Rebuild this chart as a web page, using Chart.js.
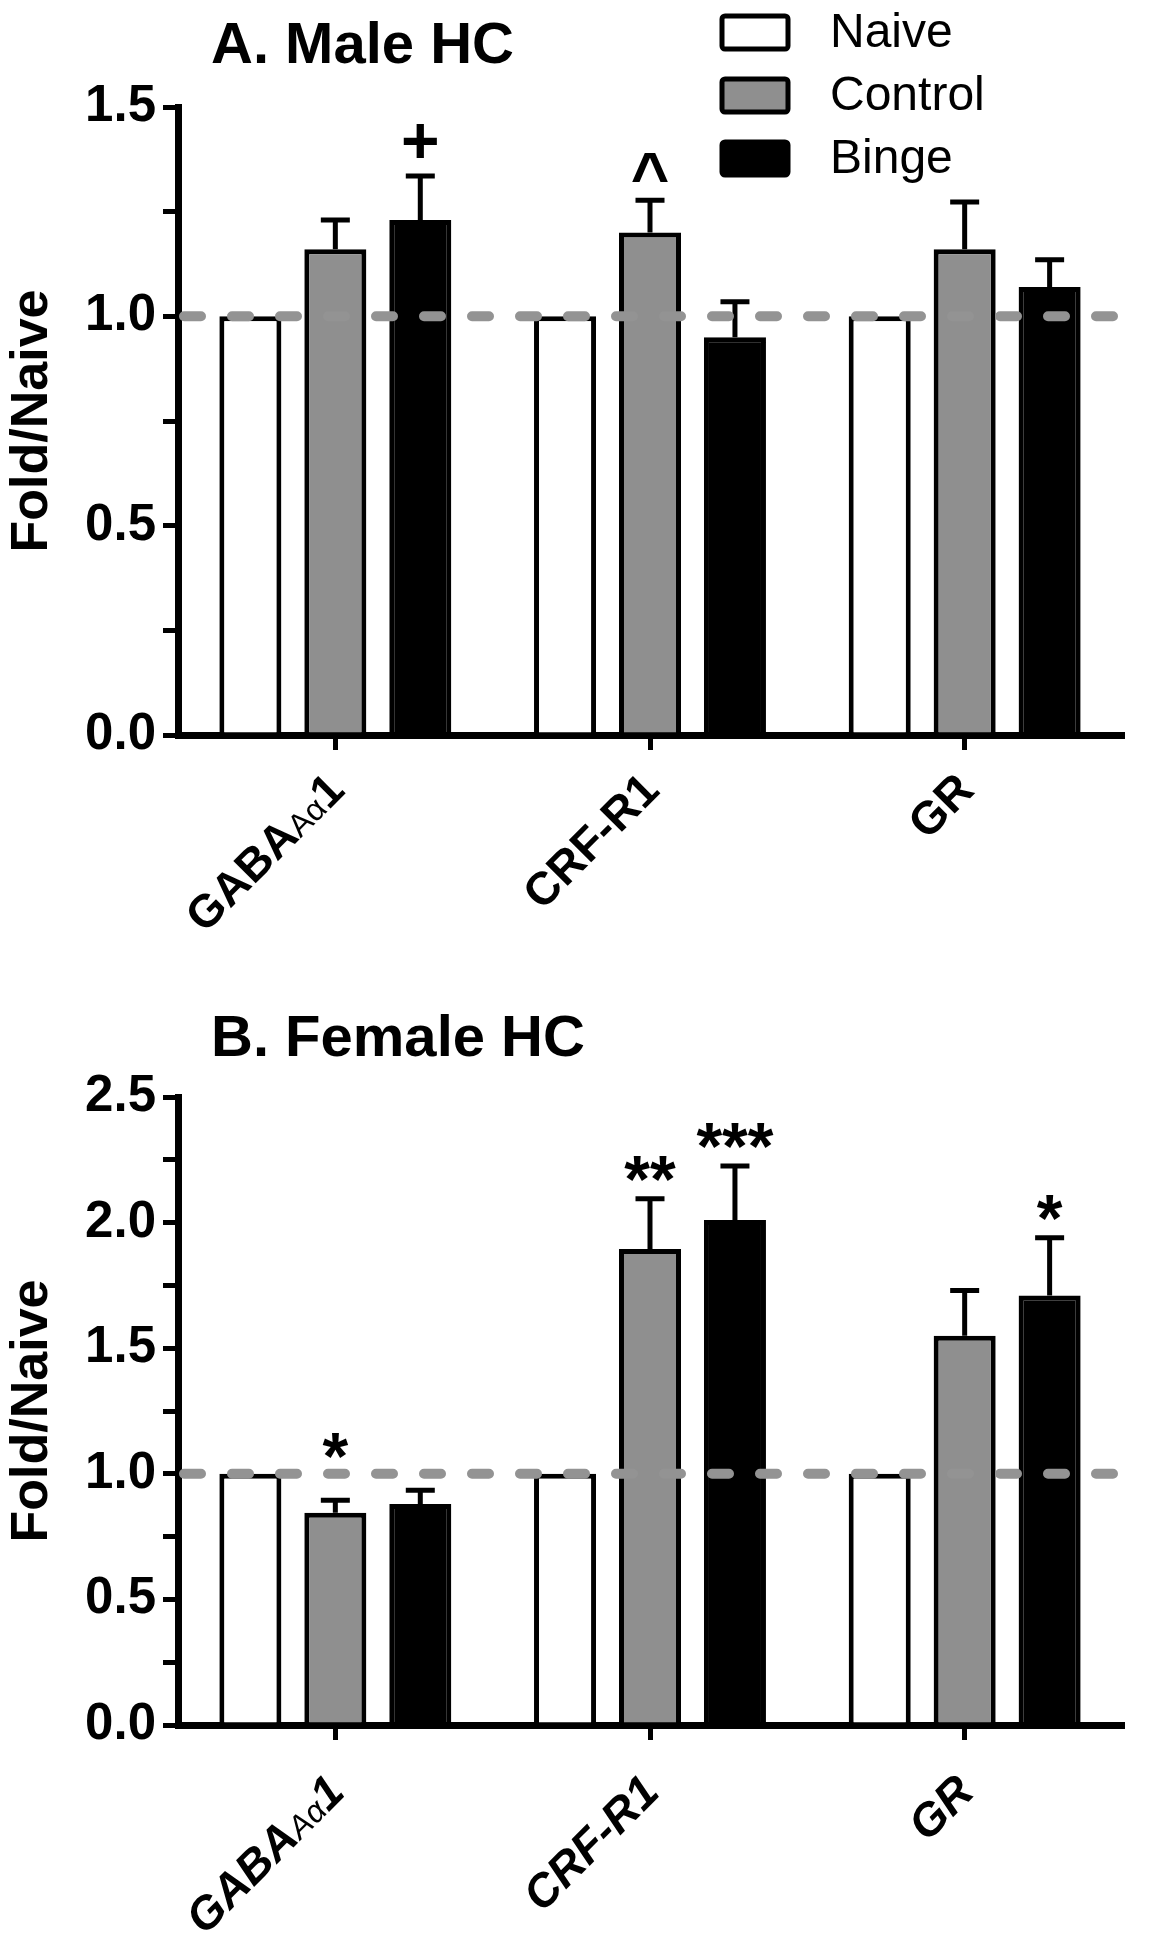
<!DOCTYPE html>
<html>
<head>
<meta charset="utf-8">
<script src="https://cdn.jsdelivr.net/npm/chart.js@4.4.1/dist/chart.umd.min.js"></script>
<style>
  body { margin: 0; background: #fff; }
  canvas { display: block; }
</style>
</head>
<body>
<canvas id="maleChart" width="1152" height="1000"></canvas>
<canvas id="femaleChart" width="1152" height="950"></canvas>
<script>
var genes = ['GABAAα1', 'CRF-R1', 'GR'];
var smallPart = 'Aα'; // drawn smaller and not bold inside the gene label
var groups = ['Naive', 'Control', 'Binge'];
var colors = ['#ffffff', '#8f8f8f', '#000000'];
var refLevel = 1.0;

// A. Male HC
var maleNaive = [1, 1, 1];
var maleControl = [1.16, 1.20, 1.16];
var maleControlErr = [0.07, 0.077, 0.113];
var maleBinge = [1.23, 0.95, 1.07];
var maleBingeErr = [0.105, 0.085, 0.065];
var maleControlSig = ['', '^', ''];
var maleBingeSig = ['+', '', ''];
var maleYMax = 1.5;

// B. Female HC
var femaleNaive = [1, 1, 1];
var femaleControl = [0.845, 1.895, 1.55];
var femaleControlErr = [0.05, 0.2, 0.18];
var femaleBinge = [0.88, 2.01, 1.71];
var femaleBingeErr = [0.055, 0.215, 0.23];
var femaleControlSig = ['*', '**', ''];
var femaleBingeSig = ['', '***', '*'];
var femaleYMax = 2.5;

var font = "'Liberation Sans', Arial, sans-serif";

function drawGeneLabel(ctx, text, x, y, italic) {
  var st = italic ? 'italic ' : '';
  var parts = [];
  var k = text.indexOf(smallPart);
  if (k >= 0) {
    parts.push([text.slice(0, k), st + 'bold 46px ' + font]);
    parts.push([smallPart, st + '32px ' + font]);
    parts.push([text.slice(k + smallPart.length), st + 'bold 46px ' + font]);
  } else {
    parts.push([text, st + 'bold 46px ' + font]);
  }
  var total = 0;
  parts.forEach(function (p) {
    ctx.font = p[1];
    p.push(ctx.measureText(p[0]).width);
    total += p[2];
  });
  ctx.save();
  ctx.translate(x, y);
  ctx.rotate(-Math.PI / 4);
  ctx.fillStyle = '#000';
  ctx.textAlign = 'left';
  ctx.textBaseline = 'alphabetic';
  var cx = -total;
  parts.forEach(function (p) {
    ctx.font = p[1];
    ctx.fillText(p[0], cx, 16);
    cx += p[2];
  });
  ctx.restore();
}

// error bars, significance marks, dashed naive line, labels, title, legend
var panelPlugin = {
  id: 'panel',
  afterDatasetsDraw: function (chart, args, o) {
    var ctx = chart.ctx, y = chart.scales.y, area = chart.chartArea;
    var ly = y.getPixelForValue(refLevel);
    ctx.save();
    chart.data.datasets.forEach(function (ds, i) {
      chart.getDatasetMeta(i).data.forEach(function (bar, j) {
        var err = ds.errors ? ds.errors[j] : 0;
        if (!err) return;
        var top = y.getPixelForValue(ds.data[j] + err);
        ctx.strokeStyle = '#000';
        ctx.lineWidth = 5;
        ctx.beginPath();
        ctx.moveTo(bar.x, bar.y);
        ctx.lineTo(bar.x, top);
        ctx.moveTo(bar.x - 14.5, top);
        ctx.lineTo(bar.x + 14.5, top);
        ctx.stroke();
      });
    });
    // dashed reference line at naive level
    ctx.strokeStyle = '#939393';
    ctx.lineWidth = 10;
    ctx.lineCap = 'round';
    ctx.setLineDash([17, 31]);
    ctx.beginPath();
    ctx.moveTo(area.left + 6, ly);
    ctx.lineTo(area.right + 8, ly);
    ctx.stroke();
    ctx.setLineDash([]);
    // significance marks
    chart.data.datasets.forEach(function (ds, i) {
      chart.getDatasetMeta(i).data.forEach(function (bar, j) {
        var mark = ds.marks ? ds.marks[j] : '';
        if (!mark) return;
        var top = y.getPixelForValue(ds.data[j] + (ds.errors ? ds.errors[j] : 0));
        var bottom = top - 18;
        if (top > ly - 20) bottom = Math.min(bottom, ly - 16);
        ctx.fillStyle = '#000';
        ctx.font = 'bold 66px ' + font;
        ctx.textAlign = 'center';
        ctx.textBaseline = 'alphabetic';
        var m = ctx.measureText(mark);
        ctx.fillText(mark, bar.x, bottom - m.actualBoundingBoxDescent);
      });
    });
    ctx.restore();
  },
  afterDraw: function (chart, args, o) {
    var ctx = chart.ctx, x = chart.scales.x, area = chart.chartArea;
    ctx.save();
    chart.data.labels.forEach(function (lab, i) {
      drawGeneLabel(ctx, lab, x.getPixelForTick(i), area.bottom + o.labelDrop, o.italic);
    });
    ctx.fillStyle = '#000';
    ctx.font = 'bold 58px ' + font;
    ctx.textAlign = 'left';
    ctx.textBaseline = 'alphabetic';
    ctx.fillText(o.title, o.titleX, o.titleY);
    if (o.legend) {
      chart.data.datasets.forEach(function (ds, i) {
        var top = 16 + i * 63;
        ctx.fillStyle = ds.backgroundColor;
        ctx.strokeStyle = '#000';
        ctx.lineWidth = 5;
        ctx.beginPath();
        ctx.roundRect(722, top, 66, 33, 3);
        ctx.fill();
        ctx.stroke();
        ctx.fillStyle = '#000';
        ctx.font = '48px ' + font;
        ctx.textBaseline = 'middle';
        ctx.fillText(ds.label, 830, top + 18);
      });
    }
    ctx.restore();
  }
};

function buildChart(id, cfg) {
  return new Chart(document.getElementById(id), {
    type: 'bar',
    data: {
      labels: genes,
      datasets: [
        { label: groups[0], data: cfg.naive, backgroundColor: colors[0] },
        { label: groups[1], data: cfg.control, errors: cfg.controlErr, marks: cfg.controlSig, backgroundColor: colors[1] },
        { label: groups[2], data: cfg.binge, errors: cfg.bingeErr, marks: cfg.bingeSig, backgroundColor: colors[2] }
      ]
    },
    options: {
      responsive: false,
      animation: false,
      datasets: {
        bar: { borderColor: '#000', borderWidth: 5, borderSkipped: 'start', categoryPercentage: 0.81, barPercentage: 0.73 }
      },
      layout: { padding: { top: cfg.padTop, right: 30, left: 0, bottom: 0 } },
      plugins: {
        legend: { display: false },
        tooltip: { enabled: false },
        panel: { title: cfg.title, titleX: 211, titleY: cfg.titleY, legend: cfg.legend, italic: cfg.italic, labelDrop: cfg.labelDrop }
      },
      scales: {
        x: {
          offset: true,
          grid: { offset: false, drawOnChartArea: false, color: '#000', lineWidth: 5, tickLength: 15 },
          border: { color: '#000', width: 7 },
          ticks: { display: false },
          afterFit: function (s) { s.height = cfg.xHeight; }
        },
        y: {
          min: 0,
          max: cfg.yMax,
          grid: { drawOnChartArea: false, color: '#000', lineWidth: 5, tickLength: 15 },
          border: { color: '#000', width: 7 },
          ticks: {
            stepSize: 0.25, autoSkip: false, color: '#000', padding: 7,
            font: { family: font, size: 51, weight: 'bold' },
            callback: function (v) { return (v * 2) % 1 === 0 ? v.toFixed(1) : ''; }
          },
          title: {
            display: true, text: 'Fold/Naive', color: '#000', padding: 1,
            font: { family: font, size: 52, weight: 'bold' }
          },
          afterFit: function (s) { s.width = 178; }
        }
      }
    },
    plugins: [panelPlugin]
  });
}

buildChart('maleChart', {
  title: 'A. Male HC', titleY: 63, legend: true, italic: false, labelDrop: 46,
  naive: maleNaive, control: maleControl, controlErr: maleControlErr,
  binge: maleBinge, bingeErr: maleBingeErr,
  controlSig: maleControlSig, bingeSig: maleBingeSig,
  yMax: maleYMax, padTop: 107, xHeight: 265
});

buildChart('femaleChart', {
  title: 'B. Female HC', titleY: 56, legend: false, italic: true, labelDrop: 58,
  naive: femaleNaive, control: femaleControl, controlErr: femaleControlErr,
  binge: femaleBinge, bingeErr: femaleBingeErr,
  controlSig: femaleControlSig, bingeSig: femaleBingeSig,
  yMax: femaleYMax, padTop: 97, xHeight: 225
});
</script>
</body>
</html>
